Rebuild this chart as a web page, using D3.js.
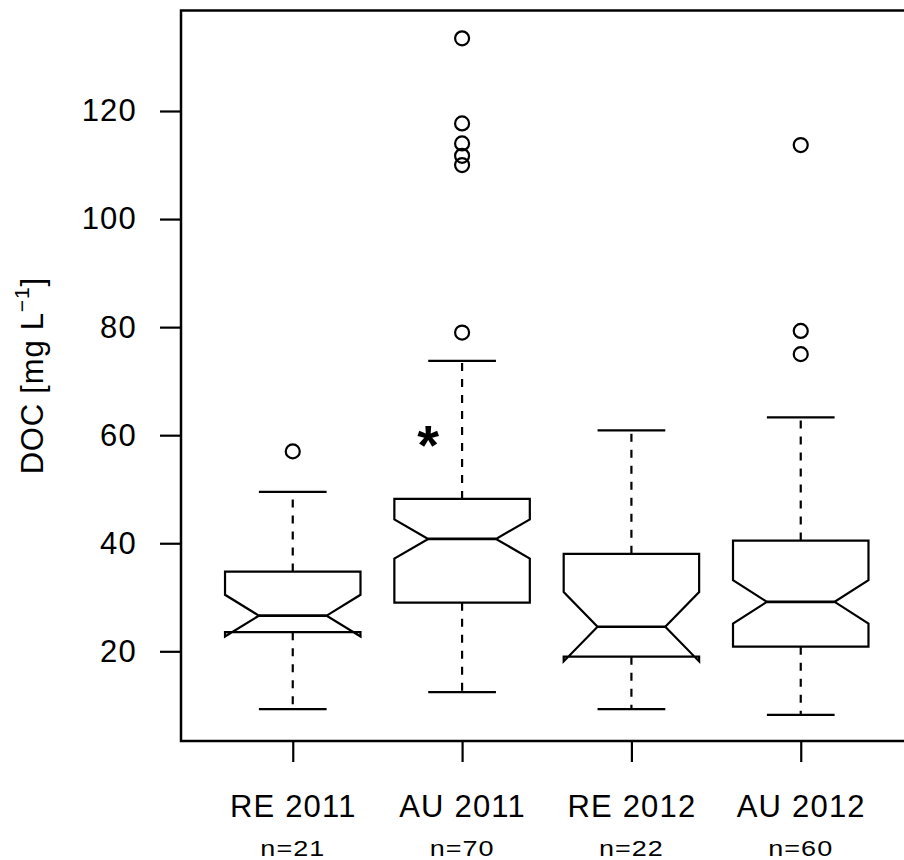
<!DOCTYPE html>
<html>
<head>
<meta charset="utf-8">
<script src="https://cdn.jsdelivr.net/npm/d3@7"></script>
<style>
  body { margin: 0; background: #fff; }
  text { font-family: "Liberation Sans", Arial, Helvetica, sans-serif; fill: #000; }
</style>
</head>
<body>
<script>
// groups and box statistics
var groups = ["RE 2011", "AU 2011", "RE 2012", "AU 2012"];
var counts = [21, 70, 22, 60];
var lowerWhisker = [9.3, 12.45, 9.3, 8.25];
var q1 = [23.55, 29.0, 19.0, 20.85];
var median = [26.6, 40.8, 24.55, 29.15];
var q3 = [34.75, 48.2, 38.05, 40.5];
var upperWhisker = [49.5, 73.75, 60.9, 63.3];
var outliers = [
    [57.0],
    [133.45, 117.7, 114.0, 111.7, 110.0, 79.0],
    [],
    [113.7, 79.3, 75.0]
];
var yTicks = [20, 40, 60, 80, 100, 120];
var sigGroup = 1;     // asterisk next to AU 2011
var sigValue = 59.6;

var width = 904, height = 860;
var plot = {left: 181, right: 912.5, top: 10.5, bottom: 741};

var svg = d3.select("body").append("svg")
    .attr("width", width)
    .attr("height", height);

var x = d3.scaleLinear()
    .domain([0.34, groups.length + 0.66])
    .range([plot.left, plot.right]);

var y = d3.scaleLinear()
    .domain([3.4, 138.6])
    .range([plot.bottom, plot.top]);

var boxHalf = 0.4, notchHalf = 0.2, stapleHalf = 0.2;

var stats = groups.map(function (g, i) {
    var iqr = q3[i] - q1[i];
    var nd = 1.58 * iqr / Math.sqrt(counts[i]);
    return {
        i: i, pos: i + 1, name: g, n: counts[i],
        lo: lowerWhisker[i], q1: q1[i], med: median[i], q3: q3[i], hi: upperWhisker[i],
        nlo: median[i] - nd, nhi: median[i] + nd,
        out: outliers[i]
    };
});

var g = svg.append("g");

// whiskers (dashed)
g.selectAll(".whisker-up").data(stats).enter().append("line")
    .attr("x1", function (d) { return x(d.pos); })
    .attr("x2", function (d) { return x(d.pos); })
    .attr("y1", function (d) { return y(d.q3); })
    .attr("y2", function (d) { return y(d.hi); })
    .attr("stroke", "#000").attr("stroke-width", 2.2)
    .attr("stroke-dasharray", "8,8");

g.selectAll(".whisker-lo").data(stats).enter().append("line")
    .attr("x1", function (d) { return x(d.pos); })
    .attr("x2", function (d) { return x(d.pos); })
    .attr("y1", function (d) { return y(d.q1); })
    .attr("y2", function (d) { return y(d.lo); })
    .attr("stroke", "#000").attr("stroke-width", 2.2)
    .attr("stroke-dasharray", "8,8");

// staples
["hi", "lo"].forEach(function (k) {
    g.selectAll(".staple-" + k).data(stats).enter().append("line")
        .attr("x1", function (d) { return x(d.pos - stapleHalf); })
        .attr("x2", function (d) { return x(d.pos + stapleHalf); })
        .attr("y1", function (d) { return y(d[k]); })
        .attr("y2", function (d) { return y(d[k]); })
        .attr("stroke", "#000").attr("stroke-width", 2.2);
});

// notched boxes
var line = d3.line();
g.selectAll(".box").data(stats).enter().append("path")
    .attr("d", function (d) {
        var pts = [
            [x(d.pos - boxHalf), y(d.q1)],
            [x(d.pos - boxHalf), y(d.nlo)],
            [x(d.pos - notchHalf), y(d.med)],
            [x(d.pos - boxHalf), y(d.nhi)],
            [x(d.pos - boxHalf), y(d.q3)],
            [x(d.pos + boxHalf), y(d.q3)],
            [x(d.pos + boxHalf), y(d.nhi)],
            [x(d.pos + notchHalf), y(d.med)],
            [x(d.pos + boxHalf), y(d.nlo)],
            [x(d.pos + boxHalf), y(d.q1)]
        ];
        return line(pts) + "Z";
    })
    .attr("fill", "#fff")
    .attr("stroke", "#000").attr("stroke-width", 2.2)
    .attr("stroke-linejoin", "miter");

// medians
g.selectAll(".median").data(stats).enter().append("line")
    .attr("x1", function (d) { return x(d.pos - notchHalf); })
    .attr("x2", function (d) { return x(d.pos + notchHalf); })
    .attr("y1", function (d) { return y(d.med); })
    .attr("y2", function (d) { return y(d.med); })
    .attr("stroke", "#000").attr("stroke-width", 2.6);

// outliers
var outPts = [];
stats.forEach(function (d) {
    d.out.forEach(function (v) { outPts.push({pos: d.pos, v: v}); });
});
g.selectAll(".outlier").data(outPts).enter().append("circle")
    .attr("cx", function (d) { return x(d.pos); })
    .attr("cy", function (d) { return y(d.v); })
    .attr("r", 7)
    .attr("fill", "none")
    .attr("stroke", "#000").attr("stroke-width", 2.2);

// asterisk
svg.append("text")
    .attr("x", x(sigGroup + 1 - 0.2))
    .attr("y", y(sigValue) + 27)
    .attr("text-anchor", "middle")
    .attr("font-size", 56)
    .attr("font-weight", "bold")
    .text("*");

// axes
var yAxis = svg.append("g")
    .attr("transform", "translate(" + plot.left + ",0)")
    .call(d3.axisLeft(y).tickValues(yTicks).tickSize(21).tickPadding(23));

var xAxis = svg.append("g")
    .attr("transform", "translate(0," + plot.bottom + ")")
    .call(d3.axisBottom(x).tickValues(stats.map(function (d) { return d.pos; }))
        .tickFormat(function (d, i) { return groups[i]; })
        .tickSize(21));

[yAxis, xAxis].forEach(function (a) {
    a.select(".domain").remove();
    a.selectAll(".tick line").attr("stroke", "#000").attr("stroke-width", 2.2);
    a.selectAll(".tick text")
        .attr("font-family", "Liberation Sans, Arial, sans-serif")
        .attr("font-size", 31)
        .attr("letter-spacing", 1.2)
        .attr("fill", "#000");
});
xAxis.selectAll(".tick text").attr("y", 76).attr("dy", 0);

// sample sizes
svg.selectAll(".nlab").data(stats).enter().append("text")
    .attr("transform", function (d) { return "translate(" + x(d.pos) + "," + 856 + ") scale(1,0.8)"; })
    .attr("text-anchor", "middle")
    .attr("font-size", 27)
    .attr("letter-spacing", 1)
    .text(function (d) { return "n=" + d.n; });

// frame
svg.append("rect")
    .attr("x", plot.left).attr("y", plot.top)
    .attr("width", plot.right - plot.left)
    .attr("height", plot.bottom - plot.top)
    .attr("fill", "none")
    .attr("stroke", "#000").attr("stroke-width", 2.5);

// y axis title
var yt = svg.append("text")
    .attr("transform", "translate(43," + (plot.top + plot.bottom) / 2 + ") rotate(-90)")
    .attr("text-anchor", "middle")
    .attr("font-size", 31)
    .attr("letter-spacing", 0.8);
yt.append("tspan").text("DOC [mg L");
yt.append("tspan").attr("font-size", 21).attr("dy", -14).text("\u22121");
yt.append("tspan").attr("dy", 14).text("]");
</script>
</body>
</html>
